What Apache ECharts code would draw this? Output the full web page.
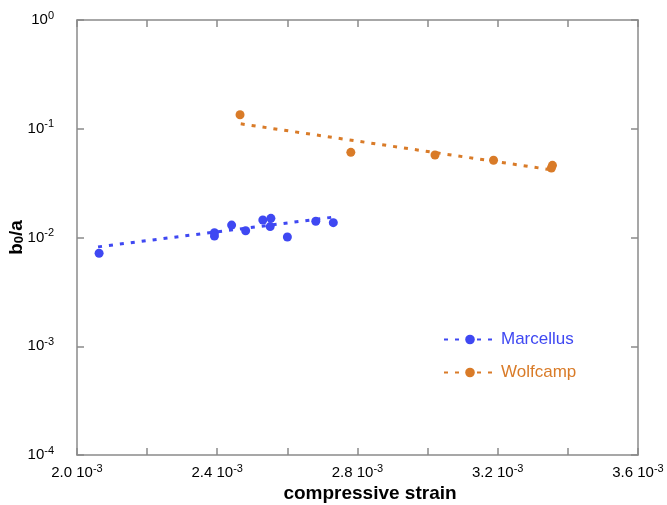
<!DOCTYPE html>
<html>
<head>
<meta charset="utf-8">
<script src="https://cdn.jsdelivr.net/npm/echarts@6/dist/echarts.min.js"></script>
<style>
  html, body { margin: 0; padding: 0; background: #fff; }
  #chart { width: 667px; height: 505px; }
</style>
</head>
<body>
<div id="chart"></div>
<script>
// strain values are in units of 10^-3
const marcellusStrain = [2.063, 2.392, 2.392, 2.441, 2.481, 2.530, 2.553, 2.551, 2.600, 2.681, 2.731];
const marcellusB0a   = [0.00716, 0.01107, 0.0103, 0.0130, 0.01155, 0.0145, 0.0150, 0.0126, 0.0101, 0.0141, 0.0137];
const marcellusFitX  = [2.060, 2.731];
const marcellusFitY  = [0.0082, 0.0154];

const wolfcampStrain = [2.465, 2.781, 3.021, 3.188, 3.356, 3.353];
const wolfcampB0a    = [0.1346, 0.0607, 0.0574, 0.0513, 0.0461, 0.0436];
const wolfcampFitX   = [2.467, 3.356];
const wolfcampFitY   = [0.111, 0.0418];

const seriesNames = ['Marcellus', 'Wolfcamp'];
const seriesColors = ['#3f48f2', '#d97b28'];

const FONT = 'Liberation Sans, Arial, sans-serif';
const AXIS_COLOR = '#8a8a8a';

function pairs(xs, ys) {
    return xs.map((x, i) => [x, ys[i]]);
}

function xLabel(v) {
    const idx = Math.round((v - 2.0) / 0.2);
    if (idx % 2 !== 0) return '';
    return v.toFixed(1) + ' 10{sup|-3}';
}

function yLabel(v) {
    const e = Math.round(Math.log10(v));
    return '10{sup|' + e + '}';
}

const labelRich = {
    base: { fontSize: 15, fontFamily: FONT, color: '#000', lineHeight: 20 },
    sup: { fontSize: 11, fontFamily: FONT, color: '#000', verticalAlign: 'top', lineHeight: 11 }
};

const commonX = {
    type: 'value', min: 2.0, max: 3.6, interval: 0.2,
    axisLine: { show: true, onZero: false, lineStyle: { color: AXIS_COLOR, width: 1.5 } },
    axisTick: { show: true, inside: true, length: 7, lineStyle: { color: AXIS_COLOR, width: 1.5 } },
    splitLine: { show: false }
};
const commonY = {
    type: 'log', logBase: 10, min: 1e-4, max: 1,
    axisLine: { show: true, onZero: false, lineStyle: { color: AXIS_COLOR, width: 1.5 } },
    axisTick: { show: true, inside: true, length: 7, lineStyle: { color: AXIS_COLOR, width: 1.5 } },
    minorTick: { show: false },
    splitLine: { show: false }
};

const chart = echarts.init(document.getElementById('chart'));
chart.setOption({
    animation: false,
    backgroundColor: '#fff',
    grid: { left: 77, right: 29, top: 20, bottom: 50, containLabel: false, outerBoundsMode: 'none' },
    xAxis: [
        Object.assign({}, commonX, {
            position: 'bottom',
            name: 'compressive strain',
            nameLocation: 'middle',
            nameGap: 29,
            nameMoveOverlap: false,
            nameTextStyle: { fontSize: 19, fontWeight: 'bold', fontFamily: FONT, color: '#000', padding: [0, 0, 0, 25] },
            axisLabel: {
                show: true, margin: 8, formatter: xLabel, rich: labelRich,
                fontSize: 15, fontFamily: FONT, color: '#000', lineHeight: 20
            }
        }),
        Object.assign({}, commonX, { position: 'top', axisLabel: { show: false } })
    ],
    yAxis: [
        Object.assign({}, commonY, {
            position: 'left',
            name: 'b{sub|0}/a',
            nameLocation: 'middle',
            nameGap: 51,
            nameMoveOverlap: false,
            nameRotate: 90,
            nameTextStyle: {
                fontSize: 19, fontWeight: 'bold', fontFamily: FONT, color: '#000',
                rich: {
                    sub: { fontSize: 13, fontWeight: 'bold', fontFamily: FONT, color: '#000', verticalAlign: 'bottom', lineHeight: 13 }
                }
            },
            axisLabel: {
                show: true, margin: 23, formatter: yLabel, rich: labelRich,
                fontSize: 15, fontFamily: FONT, color: '#000', lineHeight: 20
            }
        }),
        Object.assign({}, commonY, { position: 'right', axisLabel: { show: false } })
    ],
    legend: {
        orient: 'vertical',
        left: 443, top: 331, padding: 0,
        itemWidth: 52, itemHeight: 12, itemGap: 16,
        data: seriesNames.map((n, i) => ({ name: n, textStyle: { color: seriesColors[i] } })),
        textStyle: { fontSize: 17, fontFamily: FONT }
    },
    series: [
        {
            name: seriesNames[0], type: 'line', data: pairs(marcellusFitX, marcellusFitY),
            symbol: 'circle', symbolSize: 9, showSymbol: false,
            lineStyle: { color: seriesColors[0], width: 3, type: [4, 7] },
            itemStyle: { color: seriesColors[0] }
        },
        {
            name: seriesNames[1], type: 'line', data: pairs(wolfcampFitX, wolfcampFitY),
            symbol: 'circle', symbolSize: 9, showSymbol: false,
            lineStyle: { color: seriesColors[1], width: 3, type: [4, 7] },
            itemStyle: { color: seriesColors[1] }
        },
        {
            name: seriesNames[0], type: 'scatter', data: pairs(marcellusStrain, marcellusB0a),
            symbol: 'circle', symbolSize: 9, itemStyle: { color: seriesColors[0], opacity: 1 }
        },
        {
            name: seriesNames[1], type: 'scatter', data: pairs(wolfcampStrain, wolfcampB0a),
            symbol: 'circle', symbolSize: 9, itemStyle: { color: seriesColors[1], opacity: 1 }
        }
    ]
});
</script>
</body>
</html>
